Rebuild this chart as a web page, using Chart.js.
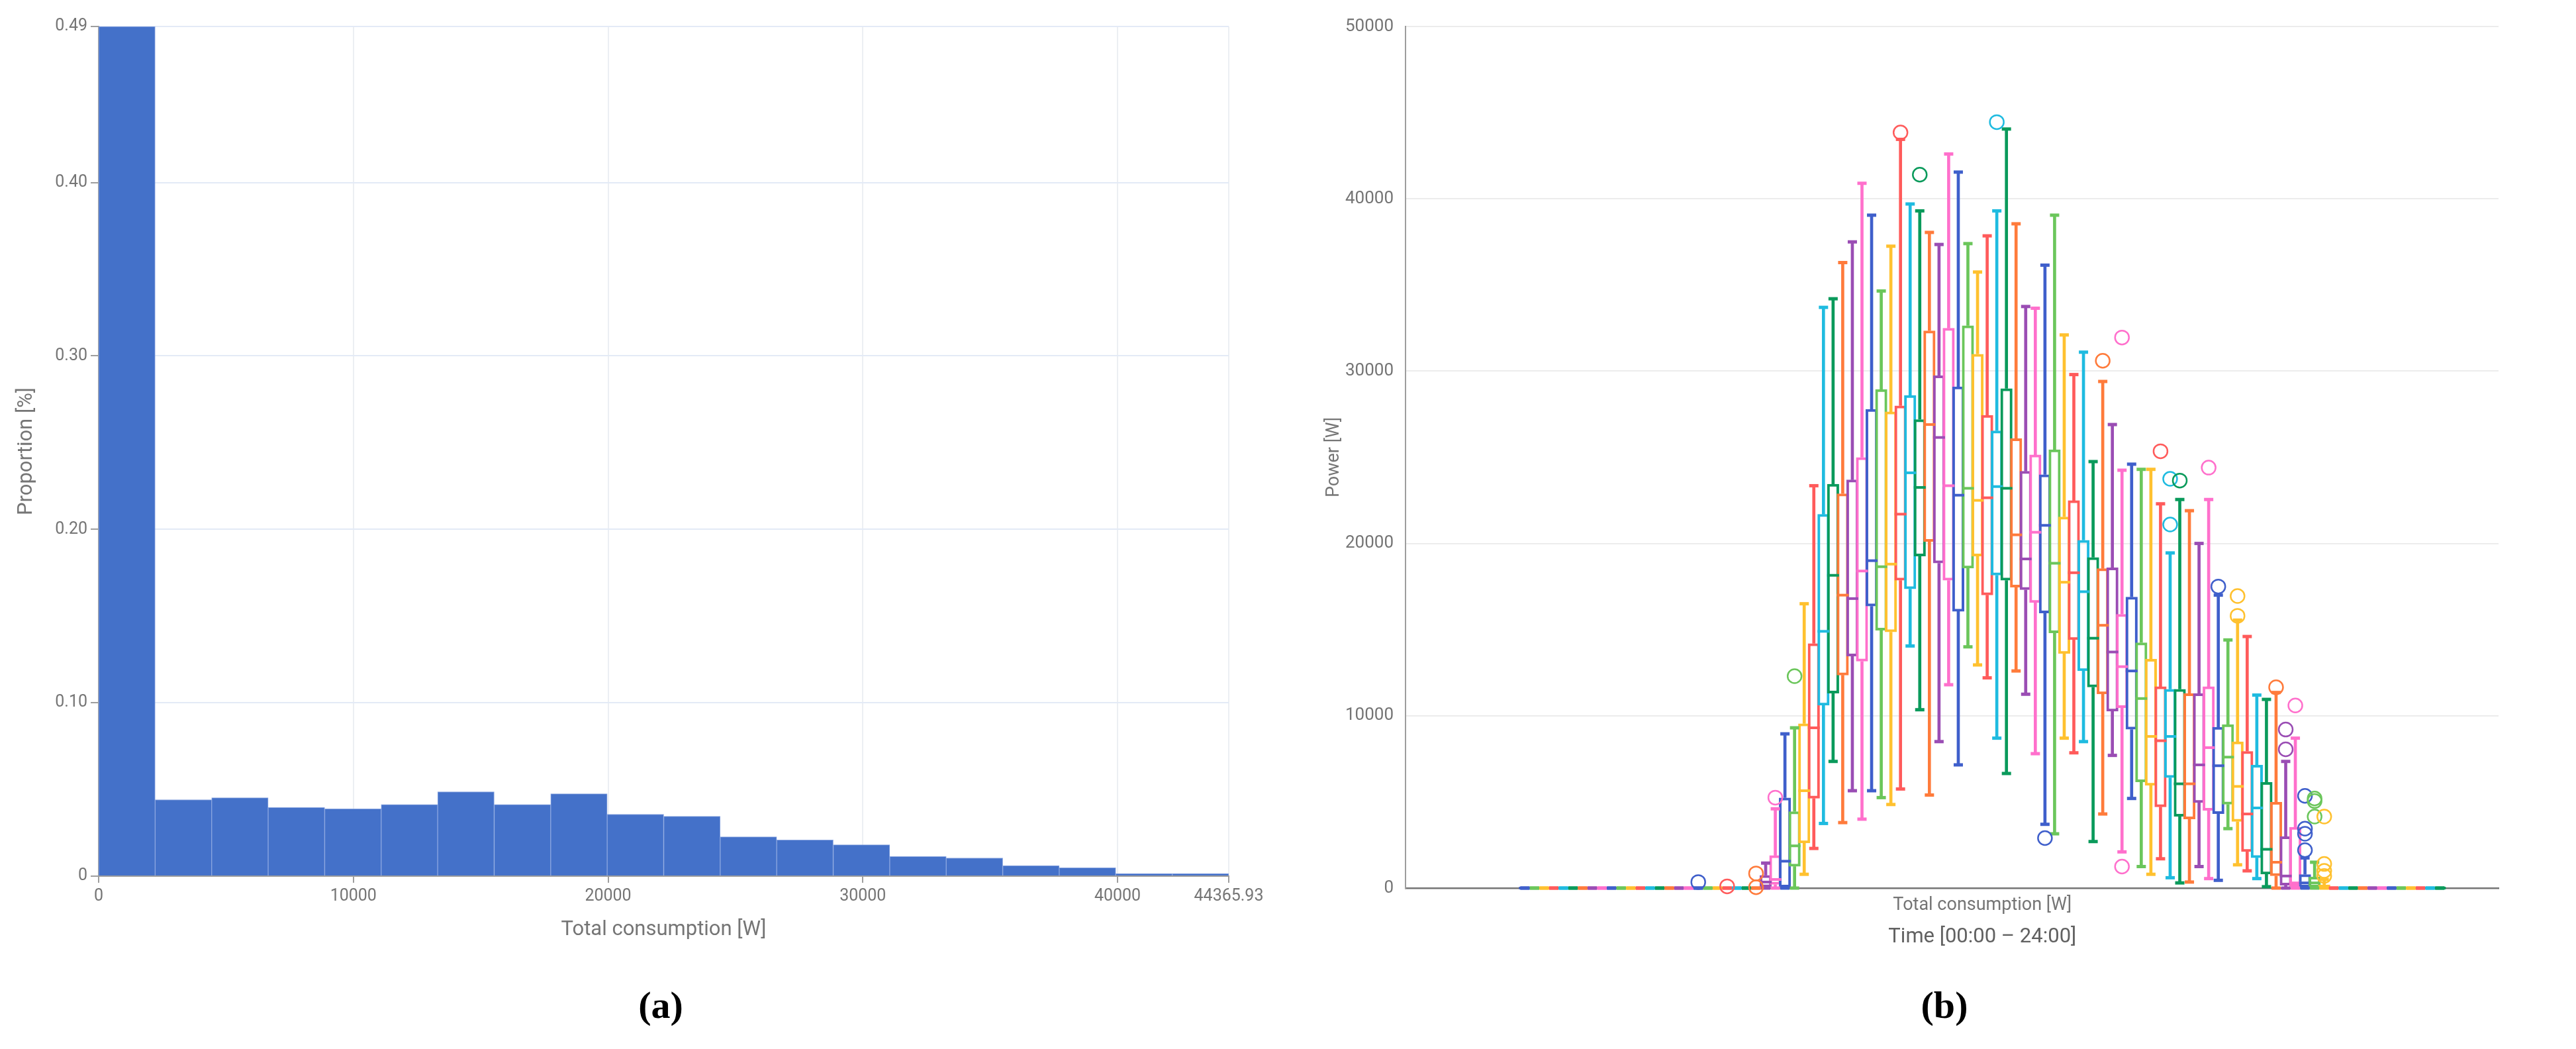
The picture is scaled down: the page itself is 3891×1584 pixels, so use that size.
<!DOCTYPE html>
<html>
<head>
<meta charset="utf-8">
<script src="https://cdn.jsdelivr.net/npm/chart.js@4.4.1/dist/chart.umd.min.js"></script>
<style>
  html, body { margin: 0; padding: 0; background: #fff; }
  body { width: 3891px; height: 1584px; position: relative; overflow: hidden; }
  #hist-chart { position: absolute; left: 0; top: 0; }
  #box-chart { position: absolute; left: 1900px; top: 0; }
  .panel-label {
    position: absolute; top: 1484px;
    font: bold 58px "Liberation Serif", serif; color: #000;
    transform: translateX(-50%);
  }
</style>
</head>
<body>
<canvas id="hist-chart" width="1920" height="1460"></canvas>
<canvas id="box-chart" width="1991" height="1460"></canvas>
<div class="panel-label" style="left: 998px">(a)</div>
<div class="panel-label" style="left: 2937px">(b)</div>

<script>
// (a) histogram of total consumption
const histEdges = [0, 2218.3, 4436.6, 6654.9, 8873.2, 11091.5, 13309.8, 15528.1, 17746.4, 19964.7,
  22183.0, 24401.3, 26619.6, 28837.9, 31056.2, 33274.5, 35492.8, 37711.1, 39929.3, 42147.6, 44365.93];
const histValues = [0.49, 0.0441, 0.0452, 0.0396, 0.0388, 0.0413, 0.0487, 0.0413, 0.0475, 0.0357,
  0.0345, 0.0227, 0.0209, 0.0181, 0.0113, 0.0105, 0.0061, 0.0048, 0.0015, 0.0015];
const histXTicks = [0, 10000, 20000, 30000, 40000, 44365.93];
const histXLabels = ["0", "10000", "20000", "30000", "40000", "44365.93"];
const histYTicks = [0, 0.1, 0.2, 0.3, 0.4, 0.49];
const histYLabels = ["0", "0.10", "0.20", "0.30", "0.40", "0.49"];

// (b) 15-min box plots over the day, 96 slots
const timeSlots = [];
for (let h = 0; h < 24; h++) {
  for (let m = 0; m < 60; m += 15) {
    timeSlots.push(String(h).padStart(2, "0") + ":" + String(m).padStart(2, "0"));
  }
}

const boxMin = [
  0, 0, 0, 0, 0, 0, 0, 0, 0, 0, 0, 0,
  0, 0, 0, 0, 0, 0, 0, 0, 0, 0, 0, 0,
  0, 0, 0, 0, 0, 800, 2300, 3750, 7350, 3800, 5650, 4000,
  5650, 5250, 4850, 5750, 14050, 10350, 5400, 8500, 11800, 7150, 14000, 12950,
  12200, 8700, 6650, 12600, 11250, 7800, 3700, 3150, 8700, 7850, 8500, 2700,
  4300, 7700, 2100, 5200, 1250, 800, 1700, 600, 300, 350, 1250, 550,
  450, 3450, 1350, 1000, 550, 80, 0, 0, 0, 0, 0, 0,
  0, 0, 0, 0, 0, 0, 0, 0, 0, 0, 0, 0
];
const boxQ1 = [
  0, 0, 0, 0, 0, 0, 0, 0, 0, 0, 0, 0,
  0, 0, 0, 0, 0, 0, 0, 0, 0, 0, 0, 0,
  0, 50, 200, 0, 1250, 2600, 5200, 10600, 11300, 12350, 13450, 13150,
  16350, 14950, 14850, 17850, 17350, 19250, 20100, 18850, 17850, 16050, 18550, 19250,
  17000, 18150, 17850, 17450, 17300, 16550, 15950, 14800, 13600, 14400, 12600, 11650,
  11250, 10250, 10450, 9200, 6150, 5950, 4700, 6400, 4150, 4000, 4950, 4500,
  4300, 4850, 3850, 2100, 1750, 800, 700, 150, 80, 0, 0, 0,
  0, 0, 0, 0, 0, 0, 0, 0, 0, 0, 0, 0
];
const boxMedian = [
  0, 0, 0, 0, 0, 0, 0, 0, 0, 0, 0, 0,
  0, 0, 0, 0, 0, 0, 0, 0, 0, 0, 0, 0,
  0, 350, 500, 1560, 2450, 5650, 9300, 14900, 18150, 17000, 16800, 18400,
  19000, 18650, 18800, 21700, 24100, 23250, 26900, 26150, 23350, 22800, 23200, 22500,
  22650, 23300, 23200, 20500, 19100, 20650, 21050, 18850, 17750, 18300, 17200, 14500,
  15250, 13700, 12850, 12600, 11000, 8800, 8550, 8800, 6050, 6050, 7150, 8150,
  7100, 7600, 5900, 4300, 4650, 2250, 1500, 700, 300, 300, 300, 0,
  0, 0, 0, 0, 0, 0, 0, 0, 0, 0, 0, 0
];
const boxQ3 = [
  0, 0, 0, 0, 0, 0, 0, 0, 0, 0, 0, 0,
  0, 0, 0, 0, 0, 0, 0, 0, 0, 0, 0, 0,
  0, 750, 1900, 5250, 4450, 9550, 14200, 21700, 23450, 22900, 23700, 25000,
  27800, 28950, 27650, 28000, 28600, 27200, 32350, 29750, 32500, 29100, 32650, 31000,
  27450, 26550, 29000, 26100, 24200, 25150, 24000, 25450, 21550, 22500, 20200, 19200,
  18550, 18600, 15900, 16900, 14250, 13300, 11700, 11550, 11550, 11300, 11300, 11700,
  9350, 9500, 8500, 7950, 7150, 6150, 5000, 3000, 3550, 800, 650, 200,
  0, 0, 0, 0, 0, 0, 0, 0, 0, 0, 0, 0
];
const boxMax = [
  0, 0, 0, 0, 0, 0, 0, 0, 0, 0, 0, 0,
  0, 0, 0, 0, 0, 0, 0, 0, 0, 0, 0, 0,
  0, 1450, 4600, 8950, 9300, 16500, 23350, 33700, 34200, 36300, 37500, 40900,
  39050, 34650, 37250, 43450, 39700, 39300, 38050, 37350, 42600, 41550, 37400, 35750,
  37850, 39300, 44050, 38550, 33750, 33650, 36150, 39050, 32100, 29800, 31100, 24750,
  29400, 26900, 24250, 24600, 24300, 24300, 22300, 19450, 22550, 21900, 20000, 22550,
  17000, 14400, 15550, 14600, 11200, 10950, 11350, 7350, 8700, 1750, 1500, 500,
  0, 0, 0, 0, 0, 0, 0, 0, 0, 0, 0, 0
];
// [slot index, value]
const outliers = [
  [18, 350], [21, 100], [24, 850], [24, 50], [26, 5250], [28, 12300], [39, 43850], [41, 41400],
  [49, 44450], [54, 2900], [60, 30600], [62, 31950], [62, 1250], [66, 25350], [67, 23750],
  [67, 21100], [68, 23650], [71, 24400], [72, 17500], [74, 16950], [74, 15800], [78, 11650],
  [79, 9200], [79, 8050], [80, 10600], [81, 5350], [81, 3450], [81, 3150], [81, 2200],
  [82, 5200], [82, 5050], [82, 4150], [83, 4150], [83, 1400], [83, 1000], [83, 700]
];
const powerTicks = [0, 10000, 20000, 30000, 40000, 50000];

const palette = ["#3f5fcb", "#6bc65b", "#ffc12f", "#ff5b5b", "#1fbbe0", "#0a9a5b", "#ff7b3b", "#9a4db4", "#ff70cc"];
const boxColors = timeSlots.map((t, i) => palette[i % palette.length]);

Chart.defaults.font.family = "Roboto, sans-serif";
Chart.defaults.color = "#757575";

const axisGray = "#9e9e9e";
const textGray = "#757575";

// ---------- (a) ----------
new Chart(document.getElementById("hist-chart"), {
  type: "bar",
  data: {
    datasets: [{
      data: histValues.map((v, i) => ({ x: (histEdges[i] + histEdges[i + 1]) / 2, y: v })),
      backgroundColor: "#4471c9",
      borderColor: "#8ba6e0",
      borderWidth: 1,
      barPercentage: 1,
      categoryPercentage: 1
    }]
  },
  options: {
    responsive: false,
    animation: false,
    devicePixelRatio: 1,
    layout: { padding: { left: 0, right: 64, top: 40, bottom: 0 } },
    plugins: { legend: { display: false }, tooltip: { enabled: false } },
    scales: {
      x: {
        type: "linear",
        min: 0,
        max: 44365.93,
        offset: false,
        grid: { offset: false, color: "#eceff3", lineWidth: 2, tickColor: axisGray, tickLength: 10 },
        border: { color: axisGray, width: 2 },
        ticks: {
          autoSkip: false,
          maxRotation: 0,
          padding: 6,
          color: textGray,
          font: { size: 25 },
          callback: (v, i) => histXLabels[i]
        },
        afterBuildTicks: (s) => { s.ticks = histXTicks.map(v => ({ value: v })); },
        afterFit: (s) => { s.height = 137; },
        title: {
          display: true,
          text: "Total consumption [W]",
          color: textGray,
          font: { size: 31 },
          padding: { top: 0, bottom: 37 }
        }
      },
      y: {
        min: 0,
        max: 0.49,
        grid: { color: "#e3eaf6", lineWidth: 2, tickColor: axisGray, tickLength: 12 },
        border: { color: axisGray, width: 2 },
        ticks: {
          autoSkip: false,
          padding: 5,
          color: textGray,
          font: { size: 25 },
          callback: (v, i) => histYLabels[i]
        },
        afterBuildTicks: (s) => { s.ticks = histYTicks.map(v => ({ value: v })); },
        afterFit: (s) => { s.width = 149; },
        title: {
          display: true,
          text: "Proportion [%]",
          color: textGray,
          font: { size: 31 },
          padding: { top: 22, bottom: 0 }
        }
      }
    }
  }
});

// ---------- (b) ----------
const xyOf = (arr) => arr.map((v, i) => ({ x: i, y: v }));

// axis titles centred under the boxes, not under the whole axis
const timeTitles = {
  id: "timeTitles",
  afterDraw(chart) {
    const { ctx, chartArea, scales } = chart;
    const cx = scales.x.getPixelForValue((timeSlots.length - 1) / 2);
    ctx.save();
    ctx.textAlign = "center";
    ctx.textBaseline = "middle";
    ctx.fillStyle = textGray;
    ctx.font = "27px Roboto, sans-serif";
    ctx.fillText("Total consumption [W]", cx, chartArea.bottom + 26);
    ctx.fillStyle = "#616161";
    ctx.font = "31px Roboto, sans-serif";
    ctx.fillText("Time [00:00 \u2013 24:00]", cx, chartArea.bottom + 74);
    ctx.restore();
  }
};

new Chart(document.getElementById("box-chart"), {
  type: "bar",
  data: {
    datasets: [
      {
        // lower whisker
        data: boxMin.map((v, i) => ({ x: i, y: [v, boxQ1[i]] })),
        backgroundColor: boxColors,
        barThickness: 4,
        grouped: false,
        clip: false,
        order: 6
      },
      {
        // upper whisker
        data: boxQ3.map((v, i) => ({ x: i, y: [v, boxMax[i]] })),
        backgroundColor: boxColors,
        barThickness: 4,
        grouped: false,
        clip: false,
        order: 6
      },
      {
        // box q1..q3
        data: boxQ1.map((v, i) => ({ x: i, y: [v, boxQ3[i]] })),
        backgroundColor: "rgba(0,0,0,0)",
        borderColor: boxColors,
        borderWidth: 4,
        borderSkipped: false,
        barPercentage: 1.25,
        categoryPercentage: 1,
        grouped: false,
        clip: false,
        order: 5
      },
      {
        type: "line",
        data: xyOf(boxMedian),
        showLine: false,
        pointStyle: "line",
        pointRadius: 9,
        pointBorderWidth: 4,
        pointBorderColor: boxColors,
        clip: false,
        order: 4
      },
      {
        type: "line",
        data: xyOf(boxMin),
        showLine: false,
        pointStyle: "line",
        pointRadius: 7,
        pointBorderWidth: 5,
        pointBorderColor: boxColors,
        clip: false,
        order: 3
      },
      {
        type: "line",
        data: xyOf(boxMax),
        showLine: false,
        pointStyle: "line",
        pointRadius: 7,
        pointBorderWidth: 5,
        pointBorderColor: boxColors,
        clip: false,
        order: 3
      },
      {
        type: "line",
        data: outliers.map(o => ({ x: o[0], y: o[1] })),
        showLine: false,
        pointStyle: "circle",
        pointRadius: 10.5,
        pointBorderWidth: 2.5,
        pointBackgroundColor: "rgba(0,0,0,0)",
        pointBorderColor: outliers.map(o => palette[o[0] % palette.length]),
        clip: false,
        order: 1
      }
    ]
  },
  options: {
    responsive: false,
    animation: false,
    devicePixelRatio: 1,
    layout: { padding: { left: 0, right: 117, top: 40, bottom: 0 } },
    plugins: { legend: { display: false }, tooltip: { enabled: false } },
    scales: {
      x: {
        type: "linear",
        min: -12.4,
        max: 101.1,
        offset: false,
        grid: { offset: false, drawOnChartArea: false, drawTicks: false },
        border: { color: "#757575", width: 2.5 },
        ticks: { display: false },
        afterFit: (s) => { s.height = 119; }
      },
      y: {
        min: 0,
        max: 50000,
        grid: { color: "#ececec", lineWidth: 2, drawTicks: false },
        border: { color: axisGray, width: 2 },
        ticks: {
          autoSkip: false,
          padding: 18,
          color: textGray,
          font: { size: 26 },
          callback: (v) => String(v)
        },
        afterBuildTicks: (s) => { s.ticks = powerTicks.map(v => ({ value: v })); },
        afterFit: (s) => { s.width = 223; },
        title: {
          display: true,
          text: "Power [W]",
          color: textGray,
          font: { size: 27 },
          padding: { top: 99, bottom: 0 }
        }
      }
    }
  },
  plugins: [timeTitles]
});
</script>
</body>
</html>
